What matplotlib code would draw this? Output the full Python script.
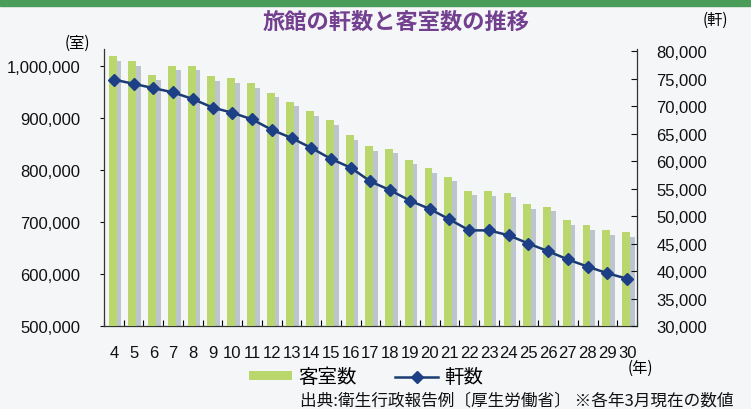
import numpy as np
import matplotlib
matplotlib.use("Agg")
from matplotlib import pyplot as plt
from matplotlib.patches import Rectangle
from matplotlib.ticker import FuncFormatter, MultipleLocator

plt.rcParams['font.family'] = ['Liberation Sans', 'Noto Sans CJK JP', 'DejaVu Sans']
jp = ['Noto Sans CJK JP', 'DejaVu Sans']

# Heisei years 4..30
years = [str(y) for y in range(4, 31)]

# 客室数 (rooms)
rooms = [1018800, 1009000, 982600, 1000600, 1000600, 980000, 976200, 966500,
         949000, 931600, 913400, 896000, 866900, 845600, 841100, 819800,
         803600, 787500, 760300, 759000, 756400, 734500, 729300, 703500,
         693800, 684100, 680800]

# 軒数 (number of inns)
inns = [74840, 74060, 73290, 72500, 71300, 69750, 68800, 67600, 65700, 64200,
        62400, 60400, 58800, 56300, 54700, 52800, 51300, 49400, 47400, 47400,
        46500, 45000, 43600, 42100, 40800, 39600, 38600]

bg = '#f4f6f8'
green = '#b9d76c'
shade = '#b3bcc6'
navy = '#1b3c72'

fig = plt.figure(figsize=(7.51, 4.10), dpi=100, facecolor=bg)
ax = fig.add_axes([104/751, 1-327/410, (637-104)/751, (327-50)/410])
ax.set_facecolor(bg)

x = np.arange(len(years))

# bars with a grey side face for the 3D look
ax.bar(x + 0.26, np.array(rooms) - 9000, width=0.24, color=shade, alpha=0.85,
       zorder=2, linewidth=0)
bars = ax.bar(x - 0.06, rooms, width=0.40, color=green, zorder=3, linewidth=0,
              label='客室数')

ax.set_xlim(-0.5, len(years) - 0.5)
ax.set_ylim(500000, 1032700)
ax.yaxis.set_major_locator(MultipleLocator(100000))
ax.yaxis.set_major_formatter(FuncFormatter(lambda v, p: f"{int(v):,}"))
ax.set_yticks(np.arange(500000, 1000001, 100000))
ax.tick_params(axis='y', direction='out', length=3, width=0.8, pad=14,
               labelsize=12, colors='#111111')

ax.set_xticks(x)
ax.set_xticklabels(years)
ax.set_xticks(np.arange(-0.5, len(years), 1), minor=True)
ax.tick_params(axis='x', which='major', length=0, pad=14, labelsize=12,
               colors='#111111')
ax.tick_params(axis='x', which='minor', direction='in', length=4, width=0.8)

ax.spines['top'].set_visible(False)
ax.spines['right'].set_visible(False)
for s in ['left', 'bottom']:
    ax.spines[s].set_color('#333333')
    ax.spines[s].set_linewidth(0.9)

ax2 = ax.twinx()
line, = ax2.plot(x, inns, color=navy, linewidth=1.8, marker='D', markersize=6.5,
                 markerfacecolor='#1d3f86', markeredgecolor='#1d3f86',
                 label='軒数', zorder=5)
ax2.set_ylim(30000, 80400)
ax2.set_yticks(np.arange(30000, 80001, 5000))
ax2.yaxis.set_major_formatter(FuncFormatter(lambda v, p: f"{int(v):,}"))
ax2.tick_params(axis='y', direction='in', length=4, width=0.8, pad=14,
                labelsize=12, colors='#111111')
for s in ['top', 'left', 'bottom']:
    ax2.spines[s].set_visible(False)
ax2.spines['right'].set_color('#333333')
ax2.spines['right'].set_linewidth(0.9)

# header band and titles
fig.patches.append(Rectangle((0, 1 - 7/410), 1, 7/410, transform=fig.transFigure,
                             color='#4a9d58', zorder=0))
fig.text(396/751, 1 - 22/410, '旅館の軒数と客室数の推移', family=jp, fontsize=16,
         fontweight='bold', color='#73408f', ha='center', va='center')
fig.text(77/751, 1 - 43/410, '(室)', family=jp, fontsize=11, ha='center', va='center')
fig.text(715/751, 1 - 20/410, '(軒)', family=jp, fontsize=11, ha='center', va='center')
fig.text(640/751, 1 - 368/410, '(年)', family=jp, fontsize=11, ha='center', va='center')

leg = fig.legend(handles=[bars, line], labels=['客室数', '軒数'], ncol=2,
                 loc='center', bbox_to_anchor=(366/751, 1 - 378/410),
                 frameon=False, prop={'family': jp, 'size': 14},
                 handlelength=2.2, handleheight=0.35, handletextpad=0.3,
                 columnspacing=2.0)

fig.text(300/751, 1 - 401/410, '出典:衛生行政報告例〔厚生労働省〕 ※各年3月現在の数値',
         family=jp, fontsize=12, ha='left', va='center', color='#111111')

fig.savefig('out.png', dpi=100, facecolor=bg)
